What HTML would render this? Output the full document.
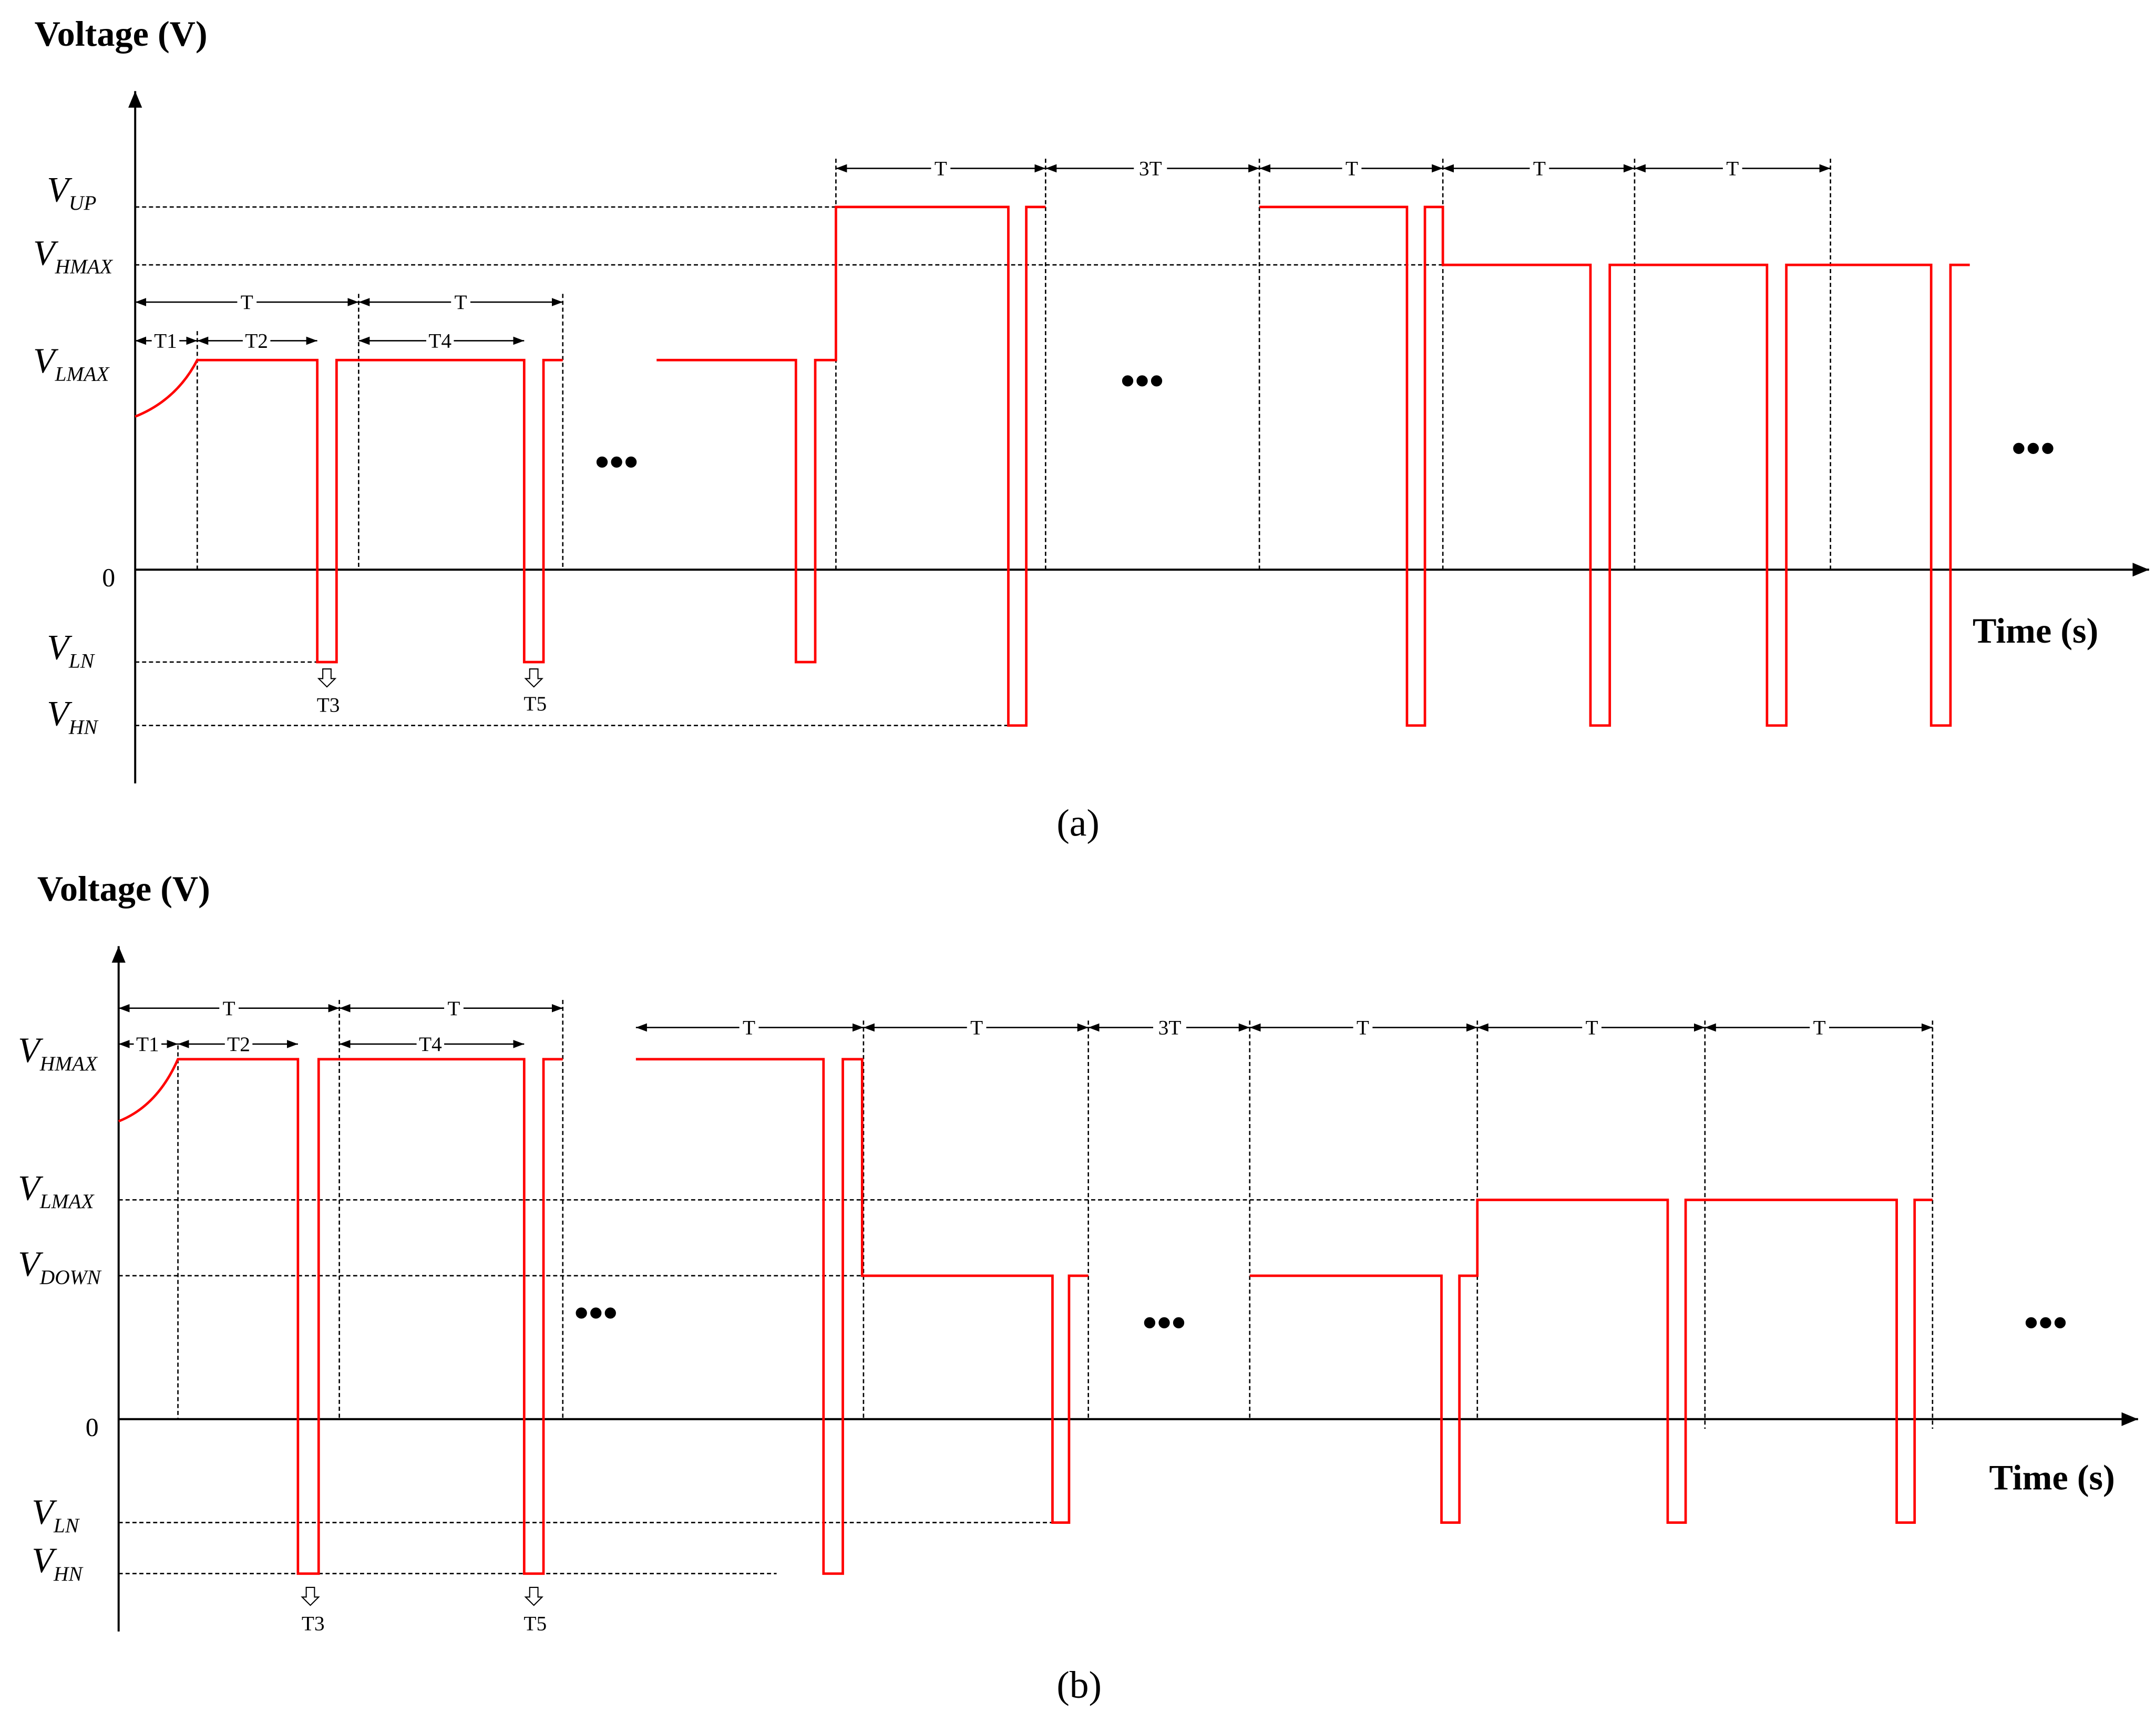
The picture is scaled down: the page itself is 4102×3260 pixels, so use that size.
<!DOCTYPE html>
<html><head><meta charset="utf-8"><style>
html,body{margin:0;padding:0;background:#fff;}
svg{display:block;}
text{font-family:"Liberation Serif",serif;fill:#000;}
</style></head><body>
<svg width="4102" height="3260" viewBox="0 0 1563 1242" xmlns="http://www.w3.org/2000/svg">
<defs>
<marker id="ah" markerWidth="8" markerHeight="6" refX="8" refY="3" orient="auto" markerUnits="userSpaceOnUse"><path d="M0,0 L8,3 L0,6 z" fill="#000"/></marker>
<marker id="as" markerWidth="8" markerHeight="6" refX="0" refY="3" orient="auto" markerUnits="userSpaceOnUse"><path d="M8,0 L0,3 L8,6 z" fill="#000"/></marker>
<marker id="big" markerWidth="12" markerHeight="10" refX="12" refY="5" orient="auto" markerUnits="userSpaceOnUse"><path d="M0,0 L12,5 L0,10 z" fill="#000"/></marker>
</defs>

<!-- ========== Panel (a) ========== -->
<text x="25" y="33" font-size="26" font-weight="bold">Voltage (V)</text>
<line x1="98" y1="568" x2="98" y2="66" stroke="#000" stroke-width="1.5" marker-end="url(#big)"/>
<line x1="98" y1="413" x2="1558" y2="413" stroke="#000" stroke-width="1.5" marker-end="url(#big)"/>
<text x="74" y="425" font-size="19">0</text>
<text x="1430" y="466" font-size="26" font-weight="bold">Time (s)</text>
<text x="766" y="606" font-size="28">(a)</text>

<g font-size="26" font-style="italic">
<text x="34" y="146">V<tspan font-size="15" dy="6">UP</tspan></text>
<text x="24" y="192">V<tspan font-size="15" dy="6">HMAX</tspan></text>
<text x="24" y="270">V<tspan font-size="15" dy="6">LMAX</tspan></text>
<text x="34" y="478">V<tspan font-size="15" dy="6">LN</tspan></text>
<text x="34" y="526">V<tspan font-size="15" dy="6">HN</tspan></text>
</g>

<g stroke="#000" stroke-width="1" stroke-dasharray="3,2" fill="none">
<line x1="98" y1="150" x2="606" y2="150"/>
<line x1="98" y1="192" x2="1046" y2="192"/>
<line x1="98" y1="480" x2="230" y2="480"/>
<line x1="98" y1="526" x2="731" y2="526"/>
<line x1="143" y1="240" x2="143" y2="413"/>
<line x1="260" y1="213" x2="260" y2="413"/>
<line x1="408" y1="213" x2="408" y2="413"/>
<line x1="606" y1="115" x2="606" y2="413"/>
<line x1="758" y1="115" x2="758" y2="413"/>
<line x1="913" y1="115" x2="913" y2="413"/>
<line x1="1046" y1="115" x2="1046" y2="413"/>
<line x1="1185" y1="115" x2="1185" y2="413"/>
<line x1="1327" y1="115" x2="1327" y2="413"/>
</g>

<g stroke="#000" stroke-width="1" marker-end="url(#ah)" marker-start="url(#as)">
<line x1="98" y1="219" x2="260" y2="219"/>
<line x1="260" y1="219" x2="408" y2="219"/>
<line x1="98" y1="247" x2="143" y2="247"/>
<line x1="143" y1="247" x2="230" y2="247"/>
<line x1="260" y1="247" x2="380" y2="247"/>
<line x1="606" y1="122" x2="758" y2="122"/>
<line x1="758" y1="122" x2="913" y2="122"/>
<line x1="913" y1="122" x2="1046" y2="122"/>
<line x1="1046" y1="122" x2="1185" y2="122"/>
<line x1="1185" y1="122" x2="1327" y2="122"/>
</g>
<g font-size="15" text-anchor="middle">
<rect x="172" y="212" width="14" height="14" fill="#fff"/><text x="179" y="224">T</text>
<rect x="327" y="212" width="14" height="14" fill="#fff"/><text x="334" y="224">T</text>
<rect x="110" y="240" width="20" height="14" fill="#fff"/><text x="120" y="252">T1</text>
<rect x="176" y="240" width="20" height="14" fill="#fff"/><text x="186" y="252">T2</text>
<rect x="309" y="240" width="20" height="14" fill="#fff"/><text x="319" y="252">T4</text>
<rect x="675" y="115" width="14" height="14" fill="#fff"/><text x="682" y="127">T</text>
<rect x="822" y="115" width="24" height="14" fill="#fff"/><text x="834" y="127">3T</text>
<rect x="973" y="115" width="14" height="14" fill="#fff"/><text x="980" y="127">T</text>
<rect x="1109" y="115" width="14" height="14" fill="#fff"/><text x="1116" y="127">T</text>
<rect x="1249" y="115" width="14" height="14" fill="#fff"/><text x="1256" y="127">T</text>
<text x="238" y="516">T3</text>
<text x="388" y="515">T5</text>
</g>
<g fill="#fff" stroke="#000" stroke-width="0.8">
<path d="M234,485 L240,485 L240,492 L243,492 L237,498 L231,492 L234,492 Z"/>
<path d="M384,485 L390,485 L390,492 L393,492 L387,498 L381,492 L384,492 Z"/>
</g>
<g font-size="30" font-weight="bold" text-anchor="middle">
<text x="447" y="345">•••</text>
<text x="828" y="286">•••</text>
<text x="1474" y="335">•••</text>
</g>

<g stroke="#f00" stroke-width="1.8" fill="none">
<path d="M98,302 Q128,290 143,261 L230,261 L230,480 L244,480 L244,261 L380,261 L380,480 L394,480 L394,261 L408,261"/>
<path d="M476,261 L577,261 L577,480 L591,480 L591,261 L606,261 L606,150 L731,150 L731,526 L744,526 L744,150 L758,150"/>
<path d="M913,150 L1020,150 L1020,526 L1033,526 L1033,150 L1046,150 L1046,192 L1153,192 L1153,526 L1167,526 L1167,192 L1281,192 L1281,526 L1295,526 L1295,192 L1400,192 L1400,526 L1414,526 L1414,192 L1428,192"/>
</g>

<!-- ========== Panel (b) ========== -->
<text x="27" y="653" font-size="26" font-weight="bold">Voltage (V)</text>
<line x1="86" y1="1183" x2="86" y2="686" stroke="#000" stroke-width="1.5" marker-end="url(#big)"/>
<line x1="86" y1="1029" x2="1550" y2="1029" stroke="#000" stroke-width="1.5" marker-end="url(#big)"/>
<text x="62" y="1041" font-size="19">0</text>
<text x="1442" y="1080" font-size="26" font-weight="bold">Time (s)</text>
<text x="766" y="1231" font-size="28">(b)</text>

<g font-size="26" font-style="italic">
<text x="13" y="770">V<tspan font-size="15" dy="6">HMAX</tspan></text>
<text x="13" y="870">V<tspan font-size="15" dy="6">LMAX</tspan></text>
<text x="13" y="925">V<tspan font-size="15" dy="6">DOWN</tspan></text>
<text x="23" y="1105">V<tspan font-size="15" dy="6">LN</tspan></text>
<text x="23" y="1140">V<tspan font-size="15" dy="6">HN</tspan></text>
</g>

<g stroke="#000" stroke-width="1" stroke-dasharray="3,2" fill="none">
<line x1="86" y1="870" x2="1071" y2="870"/>
<line x1="86" y1="925" x2="625" y2="925"/>
<line x1="86" y1="1104" x2="763" y2="1104"/>
<line x1="86" y1="1141" x2="563" y2="1141"/>
<line x1="129" y1="758" x2="129" y2="1029"/>
<line x1="246" y1="725" x2="246" y2="1029"/>
<line x1="408" y1="725" x2="408" y2="1029"/>
<line x1="626" y1="740" x2="626" y2="1029"/>
<line x1="789" y1="740" x2="789" y2="1029"/>
<line x1="906" y1="740" x2="906" y2="1029"/>
<line x1="1071" y1="740" x2="1071" y2="1029"/>
<line x1="1236" y1="740" x2="1236" y2="1036"/>
<line x1="1401" y1="740" x2="1401" y2="1036"/>
</g>

<g stroke="#000" stroke-width="1" marker-end="url(#ah)" marker-start="url(#as)">
<line x1="86" y1="731" x2="246" y2="731"/>
<line x1="246" y1="731" x2="408" y2="731"/>
<line x1="86" y1="757" x2="129" y2="757"/>
<line x1="129" y1="757" x2="216" y2="757"/>
<line x1="246" y1="757" x2="380" y2="757"/>
<line x1="461" y1="745" x2="626" y2="745"/>
<line x1="626" y1="745" x2="789" y2="745"/>
<line x1="789" y1="745" x2="906" y2="745"/>
<line x1="906" y1="745" x2="1071" y2="745"/>
<line x1="1071" y1="745" x2="1236" y2="745"/>
<line x1="1236" y1="745" x2="1401" y2="745"/>
</g>
<g font-size="15" text-anchor="middle">
<rect x="159" y="724" width="14" height="14" fill="#fff"/><text x="166" y="736">T</text>
<rect x="322" y="724" width="14" height="14" fill="#fff"/><text x="329" y="736">T</text>
<rect x="97" y="750" width="20" height="14" fill="#fff"/><text x="107" y="762">T1</text>
<rect x="163" y="750" width="20" height="14" fill="#fff"/><text x="173" y="762">T2</text>
<rect x="302" y="750" width="20" height="14" fill="#fff"/><text x="312" y="762">T4</text>
<rect x="536" y="738" width="14" height="14" fill="#fff"/><text x="543" y="750">T</text>
<rect x="701" y="738" width="14" height="14" fill="#fff"/><text x="708" y="750">T</text>
<rect x="836" y="738" width="24" height="14" fill="#fff"/><text x="848" y="750">3T</text>
<rect x="981" y="738" width="14" height="14" fill="#fff"/><text x="988" y="750">T</text>
<rect x="1147" y="738" width="14" height="14" fill="#fff"/><text x="1154" y="750">T</text>
<rect x="1312" y="738" width="14" height="14" fill="#fff"/><text x="1319" y="750">T</text>
<text x="227" y="1182">T3</text>
<text x="388" y="1182">T5</text>
</g>
<g fill="#fff" stroke="#000" stroke-width="0.8">
<path d="M222,1151 L228,1151 L228,1158 L231,1158 L225,1164 L219,1158 L222,1158 Z"/>
<path d="M384,1151 L390,1151 L390,1158 L393,1158 L387,1164 L381,1158 L384,1158 Z"/>
</g>
<g font-size="30" font-weight="bold" text-anchor="middle">
<text x="432" y="962">•••</text>
<text x="844" y="969">•••</text>
<text x="1483" y="969">•••</text>
</g>

<g stroke="#f00" stroke-width="1.8" fill="none">
<path d="M86,813 Q114,802 129,768 L216,768 L216,1141 L231,1141 L231,768 L380,768 L380,1141 L394,1141 L394,768 L408,768"/>
<path d="M461,768 L597,768 L597,1141 L611,1141 L611,768 L625,768 L625,925 L763,925 L763,1104 L775,1104 L775,925 L789,925"/>
<path d="M906,925 L1045,925 L1045,1104 L1058,1104 L1058,925 L1071,925 L1071,870 L1209,870 L1209,1104 L1222,1104 L1222,870 L1375,870 L1375,1104 L1388,1104 L1388,870 L1401,870"/>
</g>
</svg>
</body></html>
